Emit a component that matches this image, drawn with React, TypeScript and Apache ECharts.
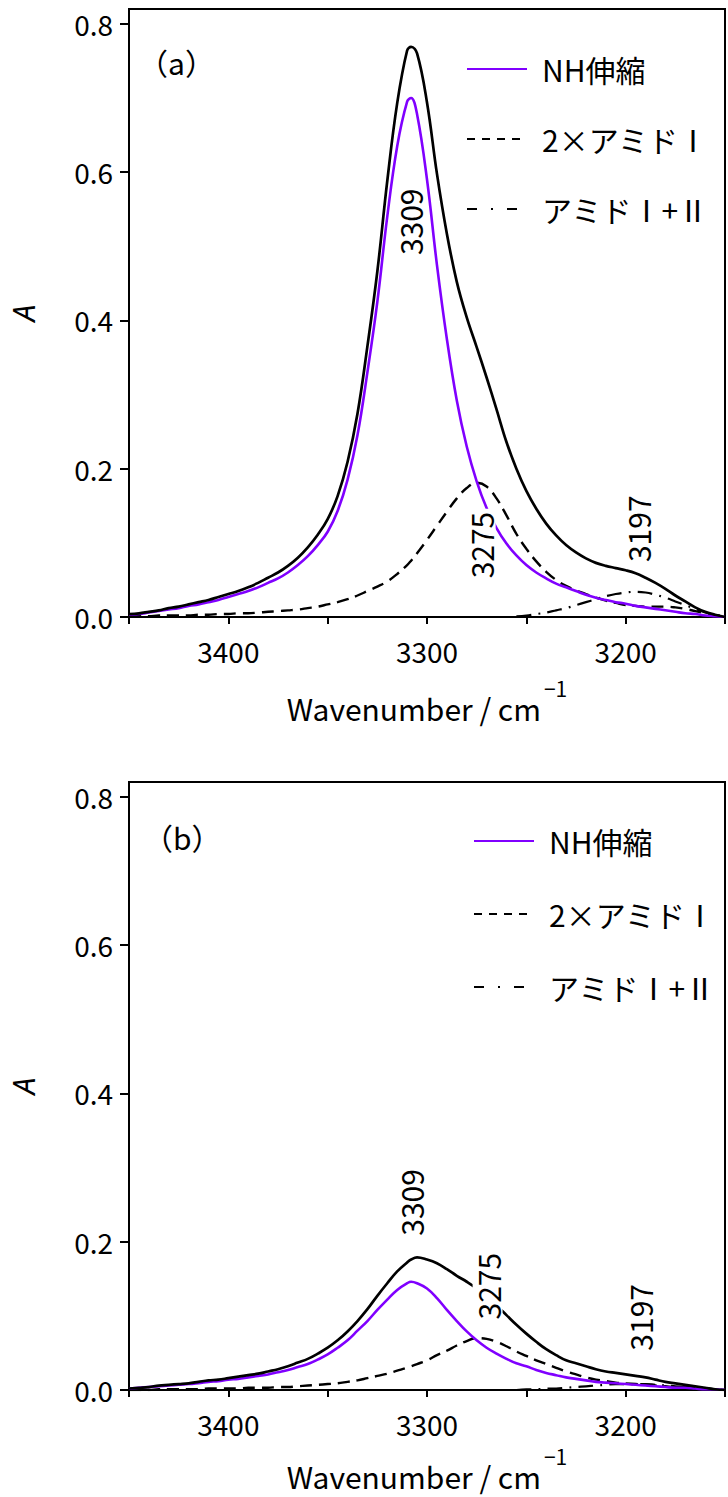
import React, { useEffect, useRef } from "react";
import * as echarts from "echarts";

// ---- data ----
const waveGrid = [3450, 3445, 3440, 3435, 3430, 3425, 3420, 3415, 3410, 3405, 3400, 3395, 3390, 3385, 3380, 3375, 3370, 3365, 3360, 3355, 3350, 3345, 3340, 3335, 3330, 3325, 3320, 3315, 3310, 3308, 3305, 3300, 3295, 3290, 3285, 3280, 3275, 3270, 3265, 3260, 3255, 3250, 3245, 3240, 3235, 3230, 3225, 3220, 3215, 3210, 3205, 3200, 3195, 3190, 3185, 3180, 3175, 3170, 3165, 3160, 3155, 3150];
const ddWave = [3255, 3250, 3245, 3240, 3235, 3230, 3225, 3220, 3215, 3210, 3205, 3200, 3195, 3190, 3185, 3180, 3175, 3170, 3165, 3160, 3155, 3150];

// panel (a)
const totalA = [0.004, 0.005, 0.007, 0.009, 0.012, 0.014, 0.017, 0.020, 0.023, 0.027, 0.031, 0.035, 0.040, 0.046, 0.053, 0.060, 0.069, 0.080, 0.094, 0.111, 0.132, 0.163, 0.209, 0.274, 0.365, 0.466, 0.588, 0.693, 0.764, 0.769, 0.760, 0.694, 0.598, 0.517, 0.452, 0.404, 0.364, 0.323, 0.280, 0.236, 0.200, 0.170, 0.146, 0.126, 0.110, 0.097, 0.087, 0.079, 0.073, 0.069, 0.066, 0.063, 0.059, 0.053, 0.046, 0.038, 0.029, 0.021, 0.013, 0.007, 0.003, 0.000];
const nhA = [0.003, 0.004, 0.006, 0.008, 0.010, 0.012, 0.015, 0.017, 0.020, 0.023, 0.027, 0.031, 0.035, 0.040, 0.046, 0.052, 0.060, 0.070, 0.082, 0.097, 0.115, 0.143, 0.185, 0.245, 0.330, 0.425, 0.540, 0.635, 0.695, 0.700, 0.678, 0.590, 0.475, 0.375, 0.292, 0.230, 0.183, 0.147, 0.120, 0.099, 0.083, 0.070, 0.060, 0.052, 0.045, 0.040, 0.035, 0.030, 0.026, 0.023, 0.020, 0.018, 0.015, 0.013, 0.011, 0.009, 0.007, 0.005, 0.004, 0.002, 0.001, 0.000];
const amide2A = [0.001, 0.001, 0.001, 0.002, 0.002, 0.002, 0.002, 0.003, 0.003, 0.004, 0.004, 0.005, 0.005, 0.006, 0.007, 0.008, 0.009, 0.010, 0.012, 0.014, 0.017, 0.020, 0.024, 0.029, 0.035, 0.041, 0.048, 0.058, 0.070, 0.076, 0.086, 0.104, 0.123, 0.142, 0.160, 0.174, 0.181, 0.176, 0.160, 0.137, 0.112, 0.092, 0.075, 0.061, 0.050, 0.042, 0.036, 0.031, 0.026, 0.022, 0.019, 0.016, 0.015, 0.014, 0.014, 0.014, 0.013, 0.011, 0.008, 0.005, 0.002, 0.000];
const amide12A = [0.001, 0.002, 0.004, 0.006, 0.009, 0.012, 0.016, 0.020, 0.024, 0.028, 0.031, 0.033, 0.034, 0.033, 0.030, 0.026, 0.021, 0.016, 0.011, 0.006, 0.003, 0.001];

// panel (b)
const totalB = [0.002, 0.003, 0.004, 0.006, 0.007, 0.008, 0.009, 0.011, 0.013, 0.014, 0.016, 0.018, 0.020, 0.022, 0.025, 0.028, 0.032, 0.037, 0.042, 0.049, 0.057, 0.067, 0.079, 0.093, 0.109, 0.127, 0.144, 0.160, 0.172, 0.176, 0.179, 0.176, 0.171, 0.163, 0.154, 0.146, 0.137, 0.126, 0.114, 0.101, 0.088, 0.076, 0.065, 0.055, 0.047, 0.040, 0.036, 0.032, 0.028, 0.025, 0.023, 0.021, 0.019, 0.017, 0.014, 0.011, 0.009, 0.007, 0.005, 0.003, 0.001, 0.000];
const nhB = [0.002, 0.003, 0.004, 0.005, 0.006, 0.007, 0.008, 0.009, 0.011, 0.012, 0.014, 0.015, 0.017, 0.019, 0.021, 0.024, 0.027, 0.031, 0.035, 0.041, 0.048, 0.057, 0.067, 0.080, 0.093, 0.108, 0.122, 0.135, 0.144, 0.146, 0.144, 0.137, 0.124, 0.108, 0.093, 0.079, 0.067, 0.057, 0.049, 0.042, 0.036, 0.032, 0.027, 0.023, 0.020, 0.017, 0.015, 0.013, 0.011, 0.010, 0.009, 0.008, 0.007, 0.006, 0.005, 0.004, 0.003, 0.003, 0.002, 0.001, 0.001, 0.000];
const amide2B = [0.000, 0.000, 0.000, 0.001, 0.001, 0.001, 0.001, 0.001, 0.002, 0.002, 0.002, 0.002, 0.003, 0.003, 0.003, 0.004, 0.004, 0.005, 0.006, 0.007, 0.008, 0.009, 0.011, 0.013, 0.016, 0.019, 0.022, 0.026, 0.030, 0.032, 0.035, 0.040, 0.047, 0.053, 0.060, 0.066, 0.070, 0.069, 0.065, 0.059, 0.052, 0.046, 0.040, 0.035, 0.030, 0.025, 0.021, 0.017, 0.014, 0.012, 0.010, 0.009, 0.008, 0.007, 0.006, 0.005, 0.004, 0.004, 0.003, 0.002, 0.001, 0.000];
const amide12B = [0.000, 0.001, 0.001, 0.002, 0.002, 0.003, 0.004, 0.005, 0.006, 0.007, 0.008, 0.008, 0.008, 0.008, 0.007, 0.006, 0.005, 0.004, 0.003, 0.002, 0.001, 0.000];

// peak annotations [wavenumber, label-centre absorbance]
const peakLabelsA = [
  { text: "3309", x: 3308.8, y: 0.533 },
  { text: "3275", x: 3273, y: 0.097 },
  { text: "3197", x: 3194, y: 0.119 },
];
const peakLabelsB = [
  { text: "3309", x: 3308, y: 0.253 },
  { text: "3275", x: 3269.5, y: 0.14 },
  { text: "3197", x: 3193, y: 0.098 },
];

const legendNames = ["NH伸縮", "2×アミドⅠ", "アミドⅠ+Ⅱ"];
const yTicks = [0, 0.2, 0.4, 0.6, 0.8];
const panelTitles = ["（a）", "（b）"];

const FONT = "'Noto Sans CJK JP', 'Noto Sans', sans-serif";
const PURPLE = "#8000ff";
const DASH = [12, 7];
const DASHDOT = [15, 7, 2, 7];

function zip(xs: number[], ys: number[]) {
  return xs.map((x, i) => [x, ys[i]]);
}

function makeMarks(labels: { text: string; x: number; y: number }[]) {
  return {
    silent: true,
    symbol: "circle",
    symbolSize: 0,
    itemStyle: { color: "transparent" },
    z: 10,
    label: {
      show: true,
      position: "inside",
      rotate: 90,
      color: "#000",
      fontSize: 30,
      fontFamily: FONT,
      backgroundColor: "#fff",
      padding: [0, 3],
      formatter: (p: any) => p.name,
    },
    data: labels.map((l) => ({ name: l.text, coord: [l.x, l.y] })),
  };
}

export default function App() {
  const ref = useRef<HTMLDivElement>(null);
  useEffect(() => {
    if (!ref.current) return;
    const chart = echarts.init(ref.current, undefined, { renderer: "svg" });

    const grids = [
      { left: 128, top: 9, width: 603, height: 608 },
      { left: 128, top: 782, width: 603, height: 608 },
    ];
    const nameGaps = [60, 55];

    const xAxes = grids.map((_, i) => ({
      gridIndex: i,
      type: "value",
      min: 3150,
      max: 3450,
      interval: 50,
      inverse: true,
      axisLine: { onZero: false, lineStyle: { color: "#000", width: 2 } },
      axisTick: { length: 7, lineStyle: { color: "#000", width: 2 } },
      axisLabel: {
        formatter: (v: number) => (v % 100 === 0 ? String(v) : ""),
        color: "#000",
        fontSize: 28,
        fontFamily: FONT,
        margin: 20,
      },
      splitLine: { show: false },
      name: "{m|Wavenumber / cm}{s|−1}",
      nameLocation: "middle",
      nameGap: nameGaps[i],
      nameTextStyle: {
        rich: {
          m: { fontSize: 30, fontFamily: FONT, color: "#000", lineHeight: 62 },
          s: { fontSize: 21, fontFamily: FONT, color: "#000", verticalAlign: "top", padding: [0, 0, 0, 3] },
        },
      },
    }));

    const yAxes = grids.map((_, i) => ({
      gridIndex: i,
      type: "value",
      min: 0,
      max: 0.82,
      axisLine: { lineStyle: { color: "#000", width: 2 } },
      axisTick: { length: 9, customValues: yTicks, lineStyle: { color: "#000", width: 2 } },
      axisLabel: {
        customValues: yTicks,
        formatter: (v: number) => v.toFixed(1),
        color: "#000",
        fontSize: 28,
        fontFamily: FONT,
        margin: 16,
      },
      splitLine: { show: false },
      name: "A",
      nameLocation: "middle",
      nameRotate: 90,
      nameGap: 91,
      nameTextStyle: { fontSize: 30, fontStyle: "italic", fontFamily: "'Noto Sans', sans-serif", color: "#000" },
    }));

    const mkSeries = (i: number, tot: number[], nh: number[], a2: number[], a12: number[], labels: any) => [
      {
        name: legendNames[2], type: "line", xAxisIndex: i, yAxisIndex: i, data: zip(ddWave, a12),
        symbol: "none", smooth: 0.4, lineStyle: { color: "#000", width: 2.2, type: DASHDOT }, itemStyle: { color: "#000" }, z: 2,
      },
      {
        name: legendNames[1], type: "line", xAxisIndex: i, yAxisIndex: i, data: zip(waveGrid, a2),
        symbol: "none", smooth: 0.4, lineStyle: { color: "#000", width: 2.4, type: DASH }, itemStyle: { color: "#000" }, z: 2,
      },
      {
        name: legendNames[0], type: "line", xAxisIndex: i, yAxisIndex: i, data: zip(waveGrid, nh),
        symbol: "none", smooth: 0.4, lineStyle: { color: PURPLE, width: 2.6 }, itemStyle: { color: PURPLE }, z: 3,
      },
      {
        name: "合計", type: "line", xAxisIndex: i, yAxisIndex: i, data: zip(waveGrid, tot),
        symbol: "none", smooth: 0.4, lineStyle: { color: "#000", width: 2.7 }, itemStyle: { color: "#000" }, z: 4,
        markPoint: makeMarks(labels),
      },
    ];

    const legendPos = [
      { left: 466, top: 54, itemGap: 40 },
      { left: 473, top: 826, itemGap: 43 },
    ];
    const legends = legendPos.map((p) => ({
      orient: "vertical",
      left: p.left,
      top: p.top,
      padding: 0,
      itemGap: p.itemGap,
      itemWidth: 60,
      itemHeight: 14,
      selectedMode: false,
      itemStyle: { opacity: 0 },
      textStyle: { fontSize: 30, fontFamily: FONT, color: "#000", padding: [0, 0, 0, 10] },
      data: [
        { name: legendNames[0] },
        { name: legendNames[1], lineStyle: { type: [8, 7] } },
        { name: legendNames[2], lineStyle: { type: [10, 14, 2, 14] } },
      ],
    }));

    chart.setOption({
      animation: false,
      backgroundColor: "#fff",
      title: [
        { text: panelTitles[0], left: 138, top: 47, padding: 0, textStyle: { fontSize: 30, fontWeight: "normal", fontFamily: FONT, color: "#000" } },
        { text: panelTitles[1], left: 143, top: 822, padding: 0, textStyle: { fontSize: 30, fontWeight: "normal", fontFamily: FONT, color: "#000" } },
      ],
      grid: grids.map((g) => ({ ...g, show: true, borderColor: "#000", borderWidth: 2, backgroundColor: "transparent" })),
      xAxis: xAxes,
      yAxis: yAxes,
      legend: legends,
      series: [
        ...mkSeries(0, totalA, nhA, amide2A, amide12A, peakLabelsA),
        ...mkSeries(1, totalB, nhB, amide2B, amide12B, peakLabelsB),
      ],
    } as any);

    return () => chart.dispose();
  }, []);

  return <div ref={ref} style={{ position: "absolute", left: 0, top: 0, width: 728, height: 1497 }} />;
}
